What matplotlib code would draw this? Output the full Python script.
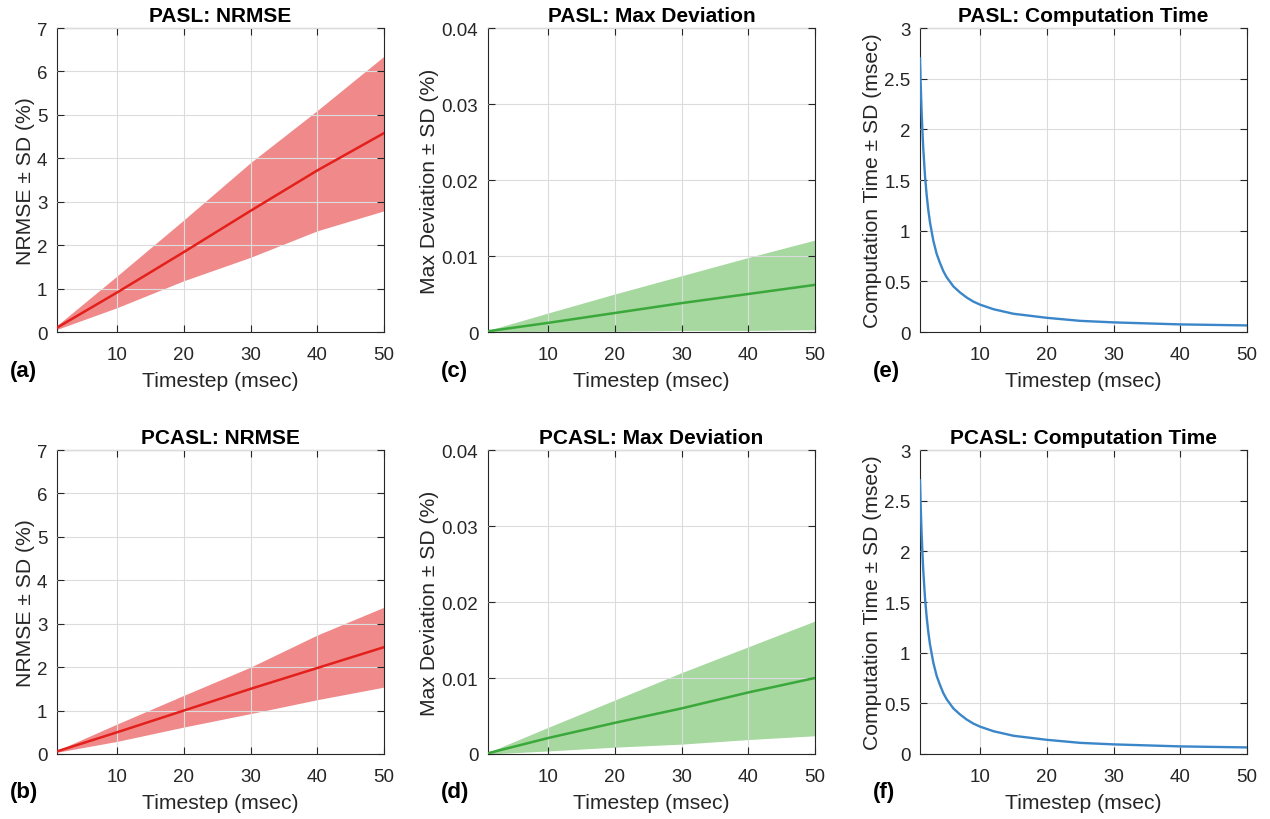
import numpy as np
import matplotlib
matplotlib.use("Agg")
import matplotlib.pyplot as plt

plt.rcParams['font.family'] = ['Liberation Sans', 'DejaVu Sans']

zeitschritte = [1, 10, 20, 30, 40, 50]

# PASL NRMSE (%)
pasl_nrmse_mittel = [0.10, 0.91, 1.84, 2.79, 3.72, 4.58]
pasl_nrmse_oben = [0.15, 1.29, 2.58, 3.90, 5.10, 6.35]
pasl_nrmse_unten = [0.06, 0.56, 1.18, 1.72, 2.33, 2.79]

# PCASL NRMSE (%)
pcasl_nrmse_mittel = [0.06, 0.50, 1.00, 1.50, 1.98, 2.46]
pcasl_nrmse_oben = [0.08, 0.69, 1.35, 2.00, 2.74, 3.38]
pcasl_nrmse_unten = [0.04, 0.29, 0.62, 0.93, 1.25, 1.54]

# PASL Max Deviation (%)
pasl_maxdev_mittel = [0.0001, 0.0012, 0.0025, 0.0038, 0.0050, 0.0062]
pasl_maxdev_oben = [0.0002, 0.0025, 0.0050, 0.0074, 0.0098, 0.0121]
pasl_maxdev_unten = [0.0000, 0.0001, 0.0001, 0.0002, 0.0002, 0.0003]

# PCASL Max Deviation (%)
pcasl_maxdev_mittel = [0.0001, 0.0021, 0.0041, 0.0060, 0.0081, 0.0100]
pcasl_maxdev_oben = [0.0002, 0.0035, 0.0071, 0.0107, 0.0141, 0.0175]
pcasl_maxdev_unten = [0.0000, 0.0004, 0.0009, 0.0013, 0.0019, 0.0024]

# Rechenzeit (msec)
zeit_x = [1, 1.1, 1.25, 1.4, 1.5, 1.75, 2, 2.25, 2.5, 3, 3.5, 4, 4.5, 5, 6, 7,
          8, 9, 10, 12, 15, 20, 25, 30, 40, 50]
pasl_zeit = [2.70, 2.45, 2.16, 1.93, 1.80, 1.54, 1.35, 1.20, 1.08, 0.90, 0.77,
             0.68, 0.60, 0.54, 0.45, 0.39, 0.34, 0.30, 0.27, 0.225, 0.18, 0.14,
             0.11, 0.095, 0.075, 0.065]
pcasl_zeit = [2.70, 2.45, 2.16, 1.93, 1.80, 1.54, 1.35, 1.20, 1.08, 0.90, 0.77,
              0.68, 0.60, 0.54, 0.45, 0.39, 0.34, 0.30, 0.27, 0.225, 0.18, 0.14,
              0.11, 0.095, 0.075, 0.065]

rot, rot_hell = '#e3201b', '#f08a8a'
gruen, gruen_hell = '#3aa83a', '#a6d8a0'
blau = '#3a86c8'

fig = plt.figure(figsize=(12.7, 8.2), dpi=100)

links = [57 / 1270, 488 / 1270, 920 / 1270]
breite = 327 / 1270
hoehe = 304 / 820
unten = [1 - 333 / 820, 1 - 755 / 820]


def achse_stil(ax, ylim, yticks, ylabel, titel, buchstabe):
    ax.set_xlim(1, 50)
    ax.set_xticks([10, 20, 30, 40, 50])
    ax.set_ylim(*ylim)
    ax.set_yticks(yticks)
    ax.grid(True, color='#dcdcdc', linewidth=0.8)
    ax.set_axisbelow(False)
    ax.tick_params(direction='in', top=True, right=True, labelsize=13.5,
                   colors='#262626', length=5)
    ax.tick_params(axis='x', pad=10)
    ax.tick_params(axis='y', pad=7)
    for s in ax.spines.values():
        s.set_color('#262626')
        s.set_linewidth(0.8)
    ax.set_xlabel('Timestep (msec)', fontsize=15.2, color='#262626', labelpad=6)
    ax.set_ylabel(ylabel, fontsize=15.2, color='#262626', labelpad=1.5)
    ax.set_title(titel, fontsize=15, fontweight='bold', pad=5)
    ax.text(-0.144, -0.125, buchstabe, transform=ax.transAxes, fontsize=16,
            fontweight='bold', ha='left', va='center')


def band(ax, mittel, oben, untenw, farbe, farbe_hell):
    ax.fill_between(zeitschritte, untenw, oben, color=farbe_hell, linewidth=0, zorder=2)
    ax.plot(zeitschritte, mittel, color=farbe, linewidth=1.8, zorder=3)


for zeile, (name, nm, no, nu, mm, mo, mu, zt) in enumerate([
        ('PASL', pasl_nrmse_mittel, pasl_nrmse_oben, pasl_nrmse_unten,
         pasl_maxdev_mittel, pasl_maxdev_oben, pasl_maxdev_unten, pasl_zeit),
        ('PCASL', pcasl_nrmse_mittel, pcasl_nrmse_oben, pcasl_nrmse_unten,
         pcasl_maxdev_mittel, pcasl_maxdev_oben, pcasl_maxdev_unten, pcasl_zeit)]):
    b = unten[zeile]

    ax1 = fig.add_axes([links[0], b, breite, hoehe])
    band(ax1, nm, no, nu, rot, rot_hell)
    achse_stil(ax1, (0, 7), range(0, 8), 'NRMSE ± SD (%)', name + ': NRMSE',
               '(a)' if zeile == 0 else '(b)')

    ax2 = fig.add_axes([links[1], b, breite, hoehe])
    band(ax2, mm, mo, mu, gruen, gruen_hell)
    achse_stil(ax2, (0, 0.04), [0, 0.01, 0.02, 0.03, 0.04], 'Max Deviation ± SD (%)',
               name + ': Max Deviation', '(c)' if zeile == 0 else '(d)')
    ax2.set_yticklabels(['0', '0.01', '0.02', '0.03', '0.04'])

    ax3 = fig.add_axes([links[2], b, breite, hoehe])
    ax3.plot(zeit_x, zt, color=blau, linewidth=1.7, zorder=3)
    achse_stil(ax3, (0, 3), [0, 0.5, 1, 1.5, 2, 2.5, 3], 'Computation Time ± SD (msec)',
               name + ': Computation Time', '(e)' if zeile == 0 else '(f)')
    ax3.set_yticklabels(['0', '0.5', '1', '1.5', '2', '2.5', '3'])

fig.savefig('out.png', dpi=100)
